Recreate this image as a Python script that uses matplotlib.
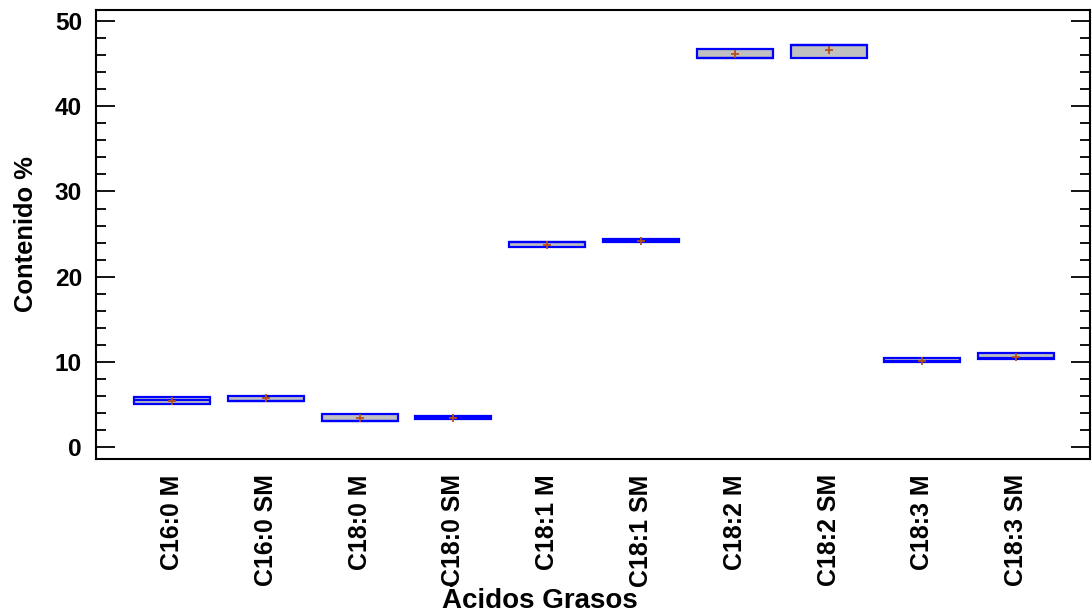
import matplotlib
matplotlib.use("Agg")
import matplotlib.pyplot as plt
from matplotlib.ticker import MultipleLocator

categories = ["C16:0 M", "C16:0 SM", "C18:0 M", "C18:0 SM", "C18:1 M",
              "C18:1 SM", "C18:2 M", "C18:2 SM", "C18:3 M", "C18:3 SM"]
q1 = [5.05, 5.40, 3.09, 3.25, 23.44, 24.03, 45.66, 45.66, 10.02, 10.33]
median = [5.48, 5.45, 3.09, 3.40, 24.10, 24.20, 45.70, 47.20, 10.10, 10.40]
q3 = [5.90, 6.02, 3.84, 3.60, 24.10, 24.38, 46.68, 47.20, 10.41, 11.00]
mean = [5.40, 5.70, 3.44, 3.40, 23.75, 24.20, 46.10, 46.60, 10.10, 10.60]

plt.rcParams['font.family'] = ['Liberation Sans', 'DejaVu Sans']

fig = plt.figure(figsize=(10.92, 6.15), dpi=100)
ax = fig.add_axes([0.0879, 0.2537, 0.9105, 0.7300])

stats = []
for i, c in enumerate(categories):
    stats.append(dict(label=c, q1=q1[i], med=median[i], q3=q3[i],
                      mean=mean[i], whislo=q1[i], whishi=q3[i], fliers=[]))

positions = list(range(len(categories)))
ax.bxp(stats, positions=positions, widths=0.81, patch_artist=True,
       showmeans=True, showcaps=False, showfliers=False,
       boxprops=dict(facecolor="#c0c0c0", edgecolor="#0000ff", linewidth=1.6),
       medianprops=dict(color="#0000ff", linewidth=1.6),
       whiskerprops=dict(color="#0000ff", linewidth=1.2),
       meanprops=dict(marker="+", markeredgecolor="#b5501a", markersize=6,
                      markeredgewidth=1.3))

ax.set_xlim(-0.81, 9.79)
ax.set_ylim(-1.4, 51.3)

ax.yaxis.set_major_locator(MultipleLocator(10))
ax.yaxis.set_minor_locator(MultipleLocator(2))
ax.tick_params(axis='y', which='major', direction='in', length=13.5, width=1.3,
               left=True, right=True, pad=10, labelsize=17.6)
ax.tick_params(axis='y', which='minor', direction='in', length=7, width=1.3,
               left=True, right=True)
ax.tick_params(axis='x', which='both', length=0, pad=11, labelsize=17.9)

ax.set_xticks(positions)
ax.set_xticklabels(categories, rotation=90, fontweight='bold')
for lab in ax.get_yticklabels():
    lab.set_fontweight('bold')

for s in ax.spines.values():
    s.set_linewidth(1.5)
    s.set_color("black")

xl = ax.set_xlabel("Ácidos Grasos", fontsize=20, fontweight='bold')
xl.set_va('baseline')
ax.xaxis.set_label_coords(0.446, -0.333)
ax.set_ylabel("Contenido %", fontsize=18.4, fontweight='bold', labelpad=12)

fig.savefig("out.png", dpi=100)
